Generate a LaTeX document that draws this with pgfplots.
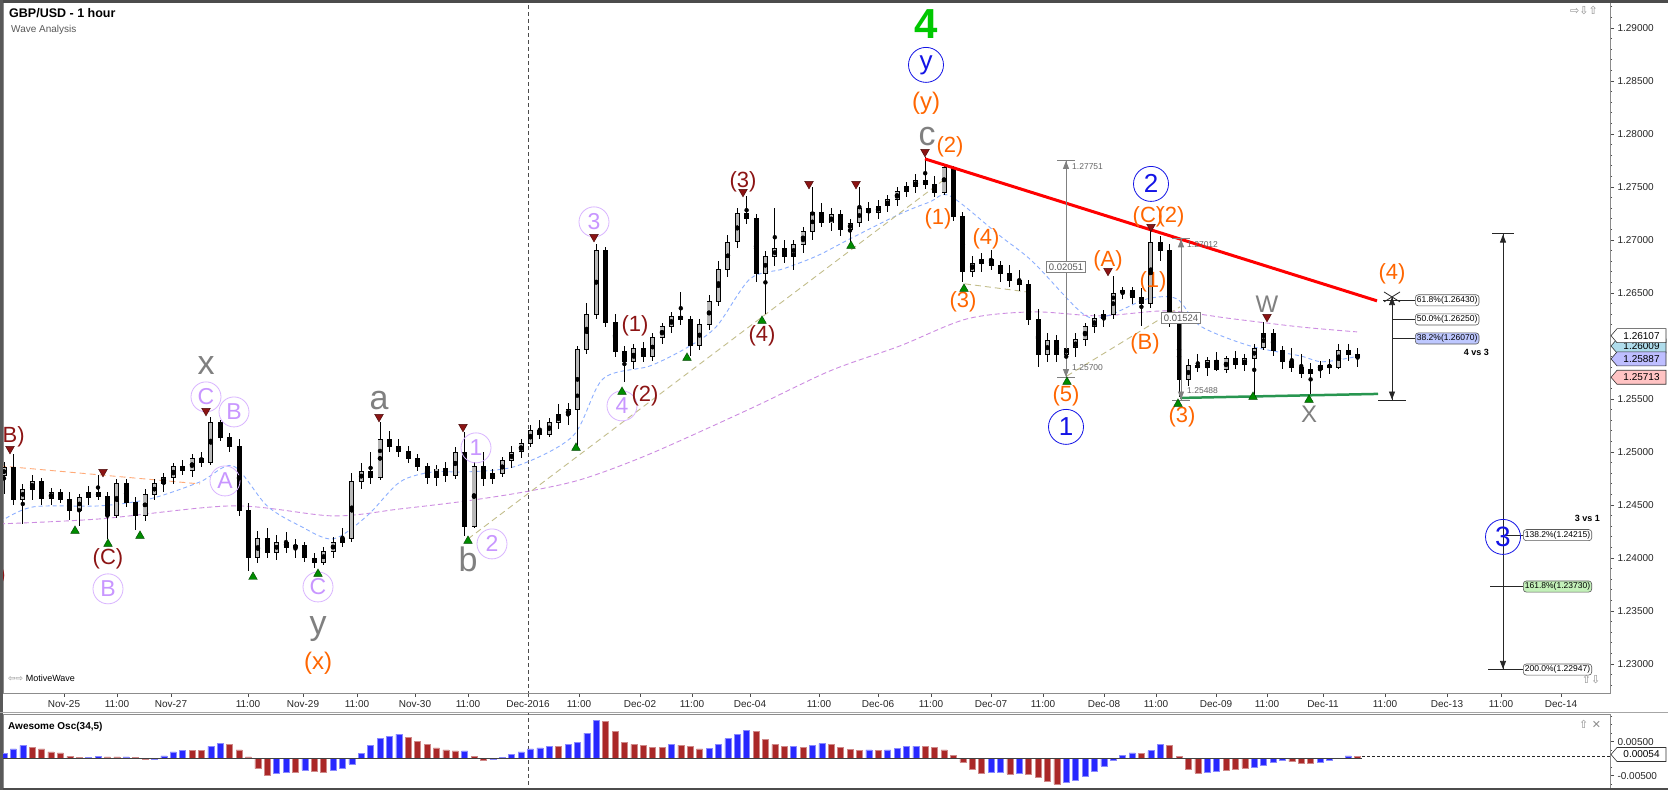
\documentclass[border=0pt]{standalone}
\usepackage{fontspec}
\setmainfont{Liberation Sans}
\newfontfamily\dejavu{DejaVu Sans}
\usepackage{pgfplots}
\pgfplotsset{compat=1.18}
\usepackage{pgfplotstable}
\usetikzlibrary{arrows.meta}

\definecolor{wvorange}{RGB}{255,102,0}
\definecolor{wvmaroon}{RGB}{140,20,20}
\definecolor{wvlav}{RGB}{200,150,255}
\definecolor{wvgray}{RGB}{128,128,128}
\definecolor{wvblue}{RGB}{20,20,230}
\definecolor{wvgreen}{RGB}{0,200,0}
\definecolor{aoblue}{RGB}{40,40,255}
\definecolor{aored}{RGB}{170,40,40}
\definecolor{mablue}{RGB}{140,175,255}
\definecolor{mapurple}{RGB}{205,140,225}
\definecolor{tanline}{RGB}{195,190,140}
\definecolor{peach}{RGB}{255,170,120}
\definecolor{trigreen}{RGB}{0,140,0}
\definecolor{supgreen}{RGB}{40,150,80}

\newcommand{\tickfont}{\fontsize{10}{12}\selectfont}

\pgfplotstableread{
o h l c
1.2478 1.2490 1.2460 1.2485
1.2485 1.2498 1.2450 1.2455
1.2455 1.2470 1.2432 1.2465
1.2465 1.2478 1.2455 1.2472
1.2472 1.2475 1.2450 1.2456
1.2456 1.2466 1.2450 1.2462
1.2462 1.2465 1.2452 1.2455
1.2455 1.2462 1.2436 1.2445
1.2445 1.2460 1.2430 1.2457
1.2457 1.2468 1.2450 1.2462
1.2462 1.2478 1.2455 1.2458
1.2458 1.2462 1.2418 1.2440
1.2440 1.2475 1.2438 1.2470
1.2470 1.2474 1.2448 1.2452
1.2452 1.2458 1.2426 1.2440
1.2440 1.2465 1.2435 1.2460
1.2460 1.2475 1.2455 1.2470
1.2470 1.2480 1.2462 1.2476
1.2476 1.2490 1.2470 1.2486
1.2486 1.2492 1.2478 1.2482
1.2482 1.2498 1.2476 1.2494
1.2494 1.2500 1.2486 1.2490
1.2490 1.2533 1.2488 1.2528
1.2528 1.2530 1.2510 1.2514
1.2514 1.2518 1.2500 1.2505
1.2505 1.2512 1.2440 1.2445
1.2445 1.2452 1.2388 1.2400
1.2400 1.2425 1.2395 1.2418
1.2418 1.2428 1.2400 1.2405
1.2405 1.2422 1.2398 1.2415
1.2415 1.2425 1.2405 1.2410
1.2410 1.2418 1.2400 1.2412
1.2412 1.2415 1.2396 1.2400
1.2400 1.2405 1.2391 1.2396
1.2396 1.2410 1.2393 1.2406
1.2406 1.2420 1.2400 1.2415
1.2415 1.2428 1.2410 1.2418
1.2418 1.2480 1.2415 1.2472
1.2472 1.2490 1.2465 1.2482
1.2482 1.2500 1.2470 1.2476
1.2476 1.2528 1.2474 1.2512
1.2512 1.2520 1.2500 1.2505
1.2505 1.2512 1.2495 1.2500
1.2500 1.2506 1.2490 1.2494
1.2494 1.2498 1.2482 1.2486
1.2486 1.2490 1.2470 1.2476
1.2476 1.2488 1.2468 1.2484
1.2484 1.2490 1.2472 1.2478
1.2478 1.2505 1.2474 1.2500
1.2500 1.2519 1.2421 1.2430
1.2430 1.2490 1.2428 1.2486
1.2486 1.2500 1.2468 1.2475
1.2475 1.2484 1.2470 1.2480
1.2480 1.2495 1.2476 1.2492
1.2492 1.2506 1.2485 1.2500
1.2500 1.2512 1.2494 1.2508
1.2508 1.2525 1.2505 1.2520
1.2520 1.2530 1.2512 1.2516
1.2516 1.2532 1.2514 1.2528
1.2528 1.2545 1.2522 1.2535
1.2535 1.2546 1.2525 1.2540
1.2540 1.2600 1.2506 1.2597
1.2597 1.2640 1.2592 1.2630
1.2630 1.2696 1.2625 1.2690
1.2690 1.2693 1.2618 1.2622
1.2622 1.2630 1.2590 1.2595
1.2595 1.2600 1.2566 1.2585
1.2585 1.2602 1.2578 1.2598
1.2598 1.2604 1.2585 1.2590
1.2590 1.2612 1.2586 1.2608
1.2608 1.2622 1.2602 1.2618
1.2618 1.2632 1.2612 1.2628
1.2628 1.2651 1.2620 1.2625
1.2625 1.2628 1.2590 1.2600
1.2600 1.2625 1.2596 1.2620
1.2620 1.2648 1.2615 1.2642
1.2642 1.2680 1.2638 1.2672
1.2672 1.2705 1.2665 1.2698
1.2698 1.2730 1.2692 1.2725
1.2725 1.2741 1.2715 1.2720
1.2720 1.2724 1.2660 1.2668
1.2668 1.2690 1.2630 1.2684
1.2684 1.2730 1.2675 1.2692
1.2692 1.2700 1.2678 1.2684
1.2684 1.2700 1.2672 1.2696
1.2696 1.2712 1.2688 1.2708
1.2708 1.2750 1.2700 1.2726
1.2726 1.2735 1.2712 1.2716
1.2716 1.2730 1.2708 1.2724
1.2724 1.2728 1.2704 1.2710
1.2710 1.2720 1.2698 1.2716
1.2716 1.2750 1.2712 1.2730
1.2730 1.2736 1.2718 1.2726
1.2726 1.2738 1.2720 1.2732
1.2732 1.2742 1.2726 1.2738
1.2738 1.2750 1.2732 1.2746
1.2746 1.2755 1.2740 1.2750
1.2750 1.2762 1.2744 1.2756
1.2756 1.2778 1.2748 1.2752
1.2752 1.2760 1.2740 1.2745
1.2745 1.2772 1.2742 1.2768
1.2768 1.2770 1.2718 1.2722
1.2722 1.2726 1.2660 1.2670
1.2670 1.2685 1.2665 1.2678
1.2678 1.2688 1.2670 1.2682
1.2682 1.2690 1.2672 1.2676
1.2676 1.2680 1.2660 1.2668
1.2668 1.2676 1.2656 1.2662
1.2662 1.2672 1.2652 1.2658
1.2658 1.2662 1.2620 1.2625
1.2625 1.2635 1.2580 1.2592
1.2592 1.2612 1.2585 1.2605
1.2605 1.2610 1.2585 1.2592
1.2592 1.2608 1.2572 1.2598
1.2598 1.2612 1.2590 1.2606
1.2606 1.2622 1.2600 1.2618
1.2618 1.2630 1.2612 1.2626
1.2626 1.2634 1.2618 1.2630
1.2630 1.2666 1.2625 1.2650
1.2650 1.2656 1.2644 1.2652
1.2652 1.2656 1.2640 1.2646
1.2646 1.2655 1.2619 1.2640
1.2640 1.2708 1.2636 1.2698
1.2698 1.2704 1.2680 1.2690
1.2690 1.2696 1.2618 1.2625
1.2625 1.2628 1.2552 1.2568
1.2568 1.2588 1.2562 1.2582
1.2582 1.2592 1.2575 1.2580
1.2580 1.2590 1.2572 1.2586
1.2586 1.2594 1.2576 1.2578
1.2578 1.2590 1.2574 1.2588
1.2588 1.2595 1.2578 1.2582
1.2582 1.2592 1.2576 1.2588
1.2588 1.2602 1.2553 1.2598
1.2598 1.2623 1.2596 1.2612
1.2612 1.2616 1.2590 1.2596
1.2596 1.2600 1.2578 1.2585
1.2585 1.2598 1.2575 1.2580
1.2580 1.2592 1.2570 1.2574
1.2574 1.2584 1.2553 1.2578
1.2578 1.2586 1.2570 1.2582
1.2582 1.2588 1.2574 1.2580
1.2580 1.2602 1.2578 1.2596
1.2596 1.2602 1.2586 1.2592
1.2592 1.2598 1.2580 1.2589
}\candles

\pgfplotstableread{
v b
0.0015 1
0.0029 1
0.0039 1
0.0034 0
0.0029 0
0.0020 0
0.0017 0
0.0007 0
0.0003 0
0.0004 1
0.0007 1
0.0005 0
0.0005 0
0.0005 1
0.0003 0
-0.0003 0
-0.0002 1
0.0008 1
0.0020 1
0.0025 1
0.0025 0
0.0024 0
0.0036 1
0.0046 1
0.0042 0
0.0026 0
0.0005 0
-0.0029 0
-0.0049 0
-0.0044 1
-0.0039 1
-0.0039 0
-0.0034 1
-0.0036 0
-0.0039 0
-0.0034 1
-0.0029 1
-0.0015 1
0.0015 1
0.0039 1
0.0059 1
0.0066 1
0.0072 1
0.0062 0
0.0051 0
0.0042 0
0.0032 0
0.0026 0
0.0023 0
0.0023 1
0.0007 0
-0.0005 0
-0.0002 1
0.0003 1
0.0013 1
0.0020 1
0.0029 1
0.0032 1
0.0036 1
0.0036 0
0.0042 1
0.0049 1
0.0075 1
0.0113 1
0.0110 0
0.0081 0
0.0049 0
0.0042 0
0.0039 0
0.0034 0
0.0034 0
0.0042 1
0.0040 0
0.0036 0
0.0029 0
0.0030 1
0.0042 1
0.0059 1
0.0072 1
0.0083 1
0.0080 0
0.0056 0
0.0042 0
0.0036 0
0.0037 1
0.0034 0
0.0039 1
0.0044 1
0.0041 0
0.0034 0
0.0027 0
0.0025 0
0.0026 1
0.0024 0
0.0026 1
0.0031 1
0.0036 1
0.0037 1
0.0036 0
0.0034 0
0.0026 0
0.0010 0
-0.0010 0
-0.0032 0
-0.0042 0
-0.0041 1
-0.0040 1
-0.0045 0
-0.0044 1
-0.0046 0
-0.0054 0
-0.0066 0
-0.0075 0
-0.0068 1
-0.0062 1
-0.0053 1
-0.0037 1
-0.0021 1
-0.0005 1
0.0010 1
0.0017 1
0.0016 0
0.0024 1
0.0041 1
0.0039 0
0.0006 0
-0.0031 0
-0.0042 0
-0.0040 1
-0.0038 1
-0.0034 0
-0.0030 0
-0.0028 0
-0.0026 1
-0.0018 1
-0.0010 1
-0.0006 1
-0.0009 0
-0.0014 0
-0.0014 0
-0.0010 1
-0.0005 1
0.0001 1
0.0008 1
0.0007 0
}\aoData

\tikzset{
 ol/.style={text=wvorange, font=\fontsize{22}{22}\selectfont, inner sep=0pt},
 ml/.style={text=wvmaroon, font=\fontsize{22}{22}\selectfont, inner sep=0pt},
 gl/.style={text=wvgray, font=\fontsize{34}{34}\selectfont, inner sep=0pt},
 glc/.style={text=wvgray, font=\fontsize{24}{24}\selectfont, inner sep=0pt},
 lc/.style={circle, draw=wvlav!70, line width=0.8pt, text=wvlav, font=\fontsize{23}{23}\selectfont, minimum size=30pt, inner sep=0pt},
 bc/.style={circle, draw=wvblue, line width=0.8pt, text=wvblue, font=\fontsize{26}{26}\selectfont, minimum size=35pt, inner sep=0pt},
 fib/.style={draw=black!65, rounded corners=3pt, fill=white, font=\fontsize{8.5}{9}\selectfont, inner sep=1.6pt, line width=0.6pt, anchor=west},
 msr/.style={draw=black!50, line width=0.8pt},
 arr/.style={-{Triangle[length=8pt,width=6pt]}},
}

\newcommand{\ptag}[3]{%
 \filldraw[fill=#2, draw=black!80, line width=0.6pt] (1611,#1) -- (1617,#1+7) -- (1666,#1+7) -- (1666,#1-7) -- (1617,#1-7) -- cycle;
 \node[font=\tickfont, anchor=center] at (1641.5,#1) {#3};}

\begin{document}
\begin{tikzpicture}[x=1pt,y=1pt]
\path[use as bounding box] (0,0) rectangle (1668,790);
\fill[white] (0,0) rectangle (1668,790);

% ---------------- main price panel ----------------
\begin{axis}[
  at={(3,91.6)}, anchor=south west, scale only axis,
  width=1607pt, height=690pt,
  xmin=3, xmax=1610, ymin=1.227264, ymax=1.292358,
  axis line style={draw=black!45, line width=0.8pt},
  xtick pos=left, ytick pos=right, yticklabel pos=right,
  ytick={1.23,1.235,1.24,1.245,1.25,1.255,1.265,1.27,1.275,1.28,1.285,1.29},
  minor ytick={1.228,1.229,...,1.292},
  scaled y ticks=false,
  yticklabel style={font=\tickfont, text=black!85,
    /pgf/number format/fixed, /pgf/number format/fixed zerofill,
    /pgf/number format/precision=5, /pgf/number format/assume math mode=true},
  xtick={64,117,171,248,303,357,415,468,528,579,640,692,750,819,878,931,991,1043,1104,1156,1216,1267,1323,1385,1447,1501,1561},
  xticklabels={Nov-25,11:00,Nov-27,11:00,Nov-29,11:00,Nov-30,11:00,Dec-2016,11:00,Dec-02,11:00,Dec-04,11:00,Dec-06,11:00,Dec-07,11:00,Dec-08,11:00,Dec-09,11:00,Dec-11,11:00,Dec-13,11:00,Dec-14},
  xticklabel style={font=\tickfont, text=black!85},
  tick align=outside, major tick length=4pt, minor tick length=2pt,
  tick style={black!70, line width=0.6pt},
]
% vertical dashed separator
\draw[black!70, dash pattern=on 4pt off 3pt, line width=0.7pt] (axis cs:528,1.2) -- (axis cs:528,1.3);

% moving averages and channel lines
\addplot[mapurple, line width=0.9pt, dash pattern=on 5pt off 3pt, smooth, tension=0.5] coordinates {
(0,1.24321) (100,1.24368) (233,1.24491) (333,1.24396) (400,1.24462) (467,1.24538) (530,1.24632) (583,1.24745) (650,1.24981) (750,1.25406) (830,1.25764) (900,1.26) (967,1.26255) (1033,1.26321) (1100,1.26283) (1167,1.2633) (1233,1.26255) (1300,1.26179) (1357,1.26132)};
\addplot[mablue, line width=0.9pt, dash pattern=on 4pt off 3pt, smooth, tension=0.5] coordinates {
(0,1.2434) (33,1.24481) (100,1.24491) (150,1.24557) (200,1.24717) (233,1.24868) (267,1.24491) (300,1.24302) (333,1.24179) (367,1.24396) (400,1.24717) (433,1.24811) (467,1.24811) (517,1.24868) (573,1.25151) (603,1.25689) (650,1.25811) (690,1.26) (717,1.26189) (750,1.26632) (783,1.26726) (817,1.26849) (850,1.2701) (900,1.27245) (930,1.27358) (950,1.27415) (1000,1.27038) (1033,1.26792) (1083,1.26302) (1107,1.26283) (1147,1.26443) (1177,1.26443) (1200,1.26189) (1250,1.26) (1300,1.25906) (1323,1.2585) (1360,1.25906)};
\addplot[peach, line width=0.9pt, dash pattern=on 6pt off 4pt] coordinates {(0,1.24868) (200,1.24698)};
\addplot[tanline, line width=0.9pt, dash pattern=on 6pt off 4pt] coordinates {(468,1.24179) (945,1.27575)};
\addplot[tanline, line width=0.9pt, dash pattern=on 6pt off 4pt] coordinates {(965,1.26585) (1027,1.26509)};
\addplot[tanline, line width=0.9pt, dash pattern=on 6pt off 4pt] coordinates {(1067,1.25717) (1180,1.26368)};

% candles: wicks, bodies, hollow up bodies
\addplot[black, only marks, mark=none, error bars/.cd, y dir=both, y explicit, error mark=none,
  error bar style={line width=1pt, draw=black}]
  table[x expr={\coordindex*9.4+4}, y expr={(\thisrow{h}+\thisrow{l})/2}, y error expr={(\thisrow{h}-\thisrow{l})/2}] {\candles};
\addplot[black, only marks, mark=none, error bars/.cd, y dir=both, y explicit, error mark=none,
  error bar style={line width=5pt, draw=black}]
  table[x expr={\coordindex*9.4+4}, y expr={(\thisrow{o}+\thisrow{c})/2}, y error expr={abs(\thisrow{o}-\thisrow{c})/2+0.00004}] {\candles};
\addplot[black, only marks, mark=none, restrict expr to domain={\thisrow{c}-\thisrow{o}}{0.00001:1},
  error bars/.cd, y dir=both, y explicit, error mark=none,
  error bar style={line width=3.2pt, draw=black!28}]
  table[x expr={\coordindex*9.4+4}, y expr={(\thisrow{o}+\thisrow{c})/2}, y error expr={max(abs(\thisrow{o}-\thisrow{c})/2-0.00005,0)}] {\candles};

% trend lines
\addplot[red, line width=3pt] coordinates {(925,1.27764) (1377,1.26425)};
\addplot[supgreen, line width=2.5pt] coordinates {(1180,1.25509) (1378,1.25547)};

% swing markers
\addplot[only marks, mark=triangle*, mark size=5pt, mark options={fill=trigreen, draw=black!50!trigreen, line width=0.4pt}] coordinates {
(75,1.24255) (108,1.24132) (140,1.24208) (253,1.2382) (318,1.23849) (468,1.2416) (576,1.25038) (622,1.25566) (687,1.25887) (762,1.26236) (851,1.26943) (964,1.26538) (1067,1.2566) (1178,1.25453) (1253,1.25519) (1309,1.25491)};
\addplot[only marks, mark=triangle*, mark size=5pt, mark options={rotate=180, fill=wvmaroon, draw=black!50!wvmaroon, line width=0.4pt}] coordinates {
(10,1.25028) (103,1.24811) (206,1.25387) (379,1.2533) (463,1.25236) (594,1.27028) (743,1.27453) (809,1.27528) (856,1.27528) (925,1.2783) (1108,1.26708) (1151,1.27123) (1267,1.26274)};

% measurement 1
\draw[msr] (axis cs:1066,1.27751) -- (axis cs:1066,1.2570);
\draw[msr] (axis cs:1057,1.27751) -- (axis cs:1075,1.27751);
\draw[msr] (axis cs:1057,1.2570) -- (axis cs:1075,1.2570);
\draw[msr, arr] (axis cs:1066,1.2760) -- (axis cs:1066,1.27745);
\draw[msr, arr] (axis cs:1066,1.2585) -- (axis cs:1066,1.25706);
\node[draw=black!50, fill=white, text=black!65, font=\fontsize{9.5}{10}\selectfont, inner sep=2pt, line width=0.7pt] at (axis cs:1066,1.26745) {0.02051};
\node[anchor=west, text=black!60, font=\fontsize{8.5}{9}\selectfont, inner sep=1pt] at (axis cs:1071,1.27689) {1.27751};
\node[anchor=west, text=black!60, font=\fontsize{8.5}{9}\selectfont, inner sep=1pt] at (axis cs:1071,1.25792) {1.25700};
% measurement 2
\draw[msr] (axis cs:1181,1.27012) -- (axis cs:1181,1.25488);
\draw[msr] (axis cs:1172,1.27012) -- (axis cs:1190,1.27012);
\draw[msr] (axis cs:1172,1.25488) -- (axis cs:1190,1.25488);
\draw[msr, arr] (axis cs:1181,1.2687) -- (axis cs:1181,1.27006);
\draw[msr, arr] (axis cs:1181,1.2563) -- (axis cs:1181,1.25494);
\node[draw=black!50, fill=white, text=black!65, font=\fontsize{9.5}{10}\selectfont, inner sep=2pt, line width=0.7pt] at (axis cs:1181,1.26264) {0.01524};
\node[anchor=west, text=black!60, font=\fontsize{8.5}{9}\selectfont, inner sep=1pt] at (axis cs:1186,1.26953) {1.27012};
\node[anchor=west, text=black!60, font=\fontsize{8.5}{9}\selectfont, inner sep=1pt] at (axis cs:1186,1.25575) {1.25488};

% fib 4 vs 3
\draw[black!85, line width=0.8pt] (axis cs:1392,1.25488) -- (axis cs:1392,1.26462);
\draw[black!85, line width=1.2pt] (axis cs:1378,1.25488) -- (axis cs:1406,1.25488);
\draw[black!85, line width=0.8pt, arr] (axis cs:1392,1.2563) -- (axis cs:1392,1.25494);
\draw[black!85, line width=0.8pt, arr] (axis cs:1392,1.2634) -- (axis cs:1392,1.2646);
\draw[black!85, line width=0.8pt] (axis cs:1384,1.26509) -- (axis cs:1400,1.26415);
\draw[black!85, line width=0.8pt] (axis cs:1384,1.26415) -- (axis cs:1400,1.26509);
\draw[black!85, line width=0.8pt] (axis cs:1383,1.2643) -- (axis cs:1415,1.2643);
\draw[black!85, line width=0.8pt] (axis cs:1392,1.2625) -- (axis cs:1415,1.2625);
\draw[black!85, line width=0.8pt] (axis cs:1392,1.2607) -- (axis cs:1415,1.2607);
\node[fib] at (axis cs:1415,1.2643) {61.8\%(1.26430)};
\node[fib] at (axis cs:1415,1.2625) {50.0\%(1.26250)};
\node[fib, fill={rgb,255:red,190;green,200;blue,255}] at (axis cs:1415,1.2607) {38.2\%(1.26070)};
\node[anchor=east, font=\bfseries\fontsize{9}{10}\selectfont, inner sep=0pt] at (axis cs:1489,1.25934) {4 vs 3};

% fib 3 vs 1
\draw[black!85, line width=0.8pt] (axis cs:1503,1.27057) -- (axis cs:1503,1.22947);
\draw[black!85, line width=1.2pt] (axis cs:1492,1.27057) -- (axis cs:1514,1.27057);
\draw[black!85, line width=1.2pt] (axis cs:1488,1.22947) -- (axis cs:1518,1.22947);
\draw[black!85, line width=0.8pt, arr] (axis cs:1503,1.2692) -- (axis cs:1503,1.2705);
\draw[black!85, line width=0.8pt, arr] (axis cs:1503,1.2309) -- (axis cs:1503,1.22953);
\draw[black!85, line width=0.8pt] (axis cs:1503,1.24215) -- (axis cs:1523,1.24215);
\draw[black!85, line width=0.8pt] (axis cs:1490,1.2373) -- (axis cs:1523,1.2373);
\draw[black!85, line width=0.8pt] (axis cs:1510,1.22947) -- (axis cs:1523,1.22947);
\node[fib] at (axis cs:1523,1.24215) {138.2\%(1.24215)};
\node[fib, fill={rgb,255:red,195;green,240;blue,185}] at (axis cs:1523,1.2373) {161.8\%(1.23730)};
\node[fib] at (axis cs:1523,1.22947) {200.0\%(1.22947)};
\node[anchor=east, font=\bfseries\fontsize{9}{10}\selectfont, inner sep=0pt] at (axis cs:1600,1.24377) {3 vs 1};

% wave labels
\node[ml] at (axis cs:10,1.25142) {(B)};
\node[ml] at (axis cs:-9,1.2383) {(A)};
\node[ml] at (axis cs:108,1.2399) {(C)};
\node[lc] at (axis cs:108,1.23708) {B};
\node[gl] at (axis cs:206,1.25811) {x};
\node[lc] at (axis cs:206,1.25519) {C};
\node[lc] at (axis cs:234,1.25377) {B};
\node[lc] at (axis cs:225,1.24726) {A};
\node[lc] at (axis cs:318,1.23726) {C};
\node[gl] at (axis cs:318,1.2333) {y};
\node[ol, font=\fontsize{24}{24}\selectfont] at (axis cs:318,1.23009) {(x)};
\node[gl] at (axis cs:379,1.25481) {a};
\node[lc] at (axis cs:476,1.25038) {1};
\node[gl] at (axis cs:468,1.2399) {b};
\node[lc] at (axis cs:492,1.24132) {2};
\node[lc] at (axis cs:594,1.2717) {3};
\node[lc] at (axis cs:622,1.25434) {4};
\node[ml] at (axis cs:645,1.25528) {(2)};
\node[ml] at (axis cs:635,1.26189) {(1)};
\node[ml] at (axis cs:743,1.27547) {(3)};
\node[ml] at (axis cs:762,1.26094) {(4)};
\node[text=wvgreen, font=\bfseries\fontsize{42}{42}\selectfont, inner sep=0pt] at (axis cs:926,1.29040) {4};
\node[bc] at (axis cs:926,1.28651) {y};
\node[ol, font=\fontsize{24}{24}\selectfont] at (axis cs:926,1.28292) {(y)};
\node[gl] at (axis cs:927,1.27972) {c};
\node[ol] at (axis cs:950,1.27877) {(2)};
\node[ol] at (axis cs:938,1.27198) {(1)};
\node[ol] at (axis cs:986,1.2701) {(4)};
\node[ol] at (axis cs:963,1.26415) {(3)};
\node[ol] at (axis cs:1066,1.25528) {(5)};
\node[bc] at (axis cs:1066,1.25236) {1};
\node[ol] at (axis cs:1108,1.26802) {(A)};
\node[bc] at (axis cs:1151,1.27528) {2};
\node[ol] at (axis cs:1148,1.27217) {(C)};
\node[ol] at (axis cs:1171,1.27217) {(2)};
\node[ol] at (axis cs:1153,1.26604) {(1)};
\node[ol] at (axis cs:1145,1.26019) {(B)};
\node[ol] at (axis cs:1182,1.2533) {(3)};
\node[glc] at (axis cs:1267,1.26396) {W};
\node[glc] at (axis cs:1309,1.25358) {X};
\node[ol] at (axis cs:1392,1.2668) {(4)};
\node[bc, font=\fontsize{28}{28}\selectfont] at (axis cs:1503,1.24198) {3};

% titles and widgets
\node[anchor=west, font=\bfseries\fontsize{12.5}{14}\selectfont, inner sep=0pt] at (axis cs:9,1.29142) {GBP/USD - 1 hour};
\node[anchor=west, text=black!65, font=\fontsize{10}{12}\selectfont, inner sep=0pt] at (axis cs:11,1.28981) {Wave Analysis};
\node[anchor=west, font=\fontsize{9}{10}\selectfont, inner sep=0pt] at (axis cs:8,1.22868) {{\dejavu\color{black!45}⇦⇨} MotiveWave};
\node[font=\dejavu\fontsize{11}{12}\selectfont, text=black!45, inner sep=0pt] at (axis cs:1584,1.29160) {⇨⇩⇧};
\node[font=\dejavu\fontsize{11}{12}\selectfont, text=black!45, inner sep=0pt] at (axis cs:1591,1.2285) {⇧⇩};
\end{axis}

% ---------------- Awesome oscillator panel ----------------
\begin{axis}[
  at={(3,3)}, anchor=south west, scale only axis,
  width=1607pt, height=75pt,
  xmin=3, xmax=1610, ymin=-0.008912, ymax=0.013147,
  axis line style={draw=black!45, line width=0.8pt},
  xtick=\empty, ytick pos=right, yticklabel pos=right,
  ytick={-0.005,0.005},
  minor ytick={-0.0075,-0.0025,0.0025,0.0075,0.01,0.0125},
  scaled y ticks=false,
  yticklabel style={font=\tickfont, text=black!85,
    /pgf/number format/fixed, /pgf/number format/fixed zerofill,
    /pgf/number format/precision=5, /pgf/number format/assume math mode=true},
  tick align=outside, major tick length=4pt, minor tick length=2pt,
  tick style={black!70, line width=0.6pt},
]
\draw[black!70, dash pattern=on 4pt off 3pt, line width=0.7pt] (axis cs:528,-0.02) -- (axis cs:528,0.02);
\addplot[ybar, bar width=6pt, bar shift=0pt, fill=aoblue, draw=aoblue!55, line width=0.5pt,
  restrict expr to domain={\thisrow{b}}{0.5:1.5}]
  table[x expr={\coordindex*9.4+4}, y=v] {\aoData};
\addplot[ybar, bar width=6pt, bar shift=0pt, fill=aored, draw=aored!55, line width=0.5pt,
  restrict expr to domain={\thisrow{b}}{-0.5:0.5}]
  table[x expr={\coordindex*9.4+4}, y=v] {\aoData};
\draw[black!75, line width=0.7pt] (axis cs:3,0) -- (axis cs:1362,0);
\draw[black!85, line width=0.7pt, dash pattern=on 3pt off 2pt] (axis cs:1362,0.00054) -- (axis cs:1610,0.00054);
\node[anchor=west, font=\bfseries\fontsize{10}{12}\selectfont, inner sep=0pt] at (axis cs:8,0.00932) {Awesome Osc(34,5)};
\node[font=\dejavu\fontsize{11}{12}\selectfont, text=black!45, inner sep=0pt] at (axis cs:1590,0.0102) {⇧ ✕};
\end{axis}

% price tags on right axis
\ptag{444}{{rgb,255:red,175;green,220;blue,235}}{1.26009}
\ptag{454.3}{white}{1.26107}
\ptag{431.1}{{rgb,255:red,190;green,190;blue,255}}{1.25887}
\ptag{412.7}{{rgb,255:red,255;green,195;blue,195}}{1.25713}
\ptag{35.5}{white}{0.00054}

% frame strips
\fill[black!70] (0,787) rectangle (1668,790);
\fill[black!70] (0,0) rectangle (1668,2.5);
\fill[black!65] (0,0) rectangle (2.5,790);
\draw[black!35, line width=0.8pt] (0,78) -- (1668,78);
\end{tikzpicture}
\end{document}
